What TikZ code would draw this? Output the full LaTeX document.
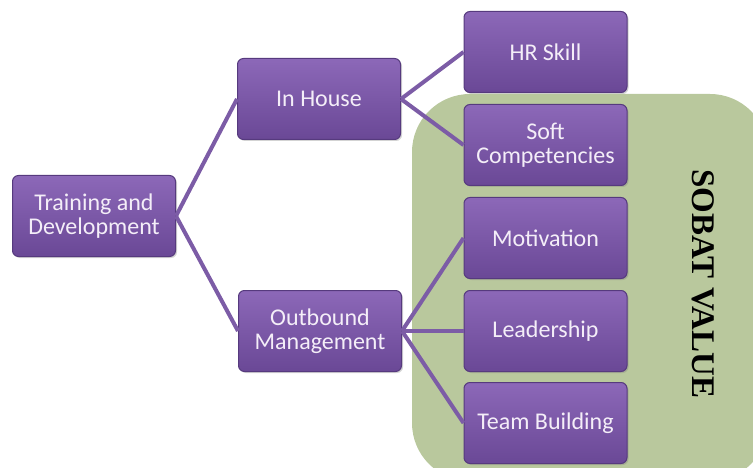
\documentclass[tikz,border=0pt]{standalone}
\usepackage{fontspec}
\setmainfont{Carlito}
\newfontfamily\serifbold{Liberation Serif}
\usetikzlibrary{shadows}
\definecolor{boxtop}{HTML}{8C68B8}
\definecolor{boxbot}{HTML}{6A4896}
\definecolor{boxedge}{HTML}{563A7E}
\definecolor{linkc}{HTML}{7C5CA6}
\definecolor{greenbg}{HTML}{B9C89D}
\definecolor{txtc}{HTML}{F4EEF8}
\tikzset{
  pbox/.style={draw=boxedge, line width=1pt, rounded corners=6pt,
    top color=boxtop, bottom color=boxbot,
    drop shadow={shadow xshift=1.5pt, shadow yshift=-1.5pt, opacity=0.35},
    minimum width=163pt, minimum height=81pt, inner sep=2pt,
    align=center, text=txtc, font=\fontsize{24}{24}\selectfont},
  link/.style={draw=linkc, line width=4pt}
}
\begin{document}
\begin{tikzpicture}[x=1pt,y=-1pt]
\useasboundingbox (0,0) rectangle (753,468);
\fill[greenbg, rounded corners=58pt] (412,94) rectangle (768,481);
\node[pbox] (td) at (94,216) {Training and\\Development};
\node[pbox] (ih) at (319,99) {In House};
\node[pbox] (om) at (320,331) {Outbound\\Management};
\node[pbox] (hr) at (545.5,52) {HR Skill};
\node[pbox] (sc) at (545.5,145) {Soft\\Competencies};
\node[pbox] (mo) at (545.5,238) {Motivation};
\node[pbox] (le) at (545.5,331) {Leadership};
\node[pbox] (tb) at (545.5,423) {Team Building};
\draw[link] (td.east) -- (ih.west);
\draw[link] (td.east) -- (om.west);
\draw[link] (ih.east) -- (hr.west);
\draw[link] (ih.east) -- (sc.west);
\draw[link] (om.east) -- (mo.west);
\draw[link] (om.east) -- (le.west);
\draw[link] (om.east) -- (tb.west);
\node[rotate=-90, font=\serifbold\bfseries\fontsize{33}{33}\selectfont, text=black] (sv) at (703.5,284) {SOBAT VALUE};
\end{tikzpicture}
\end{document}
